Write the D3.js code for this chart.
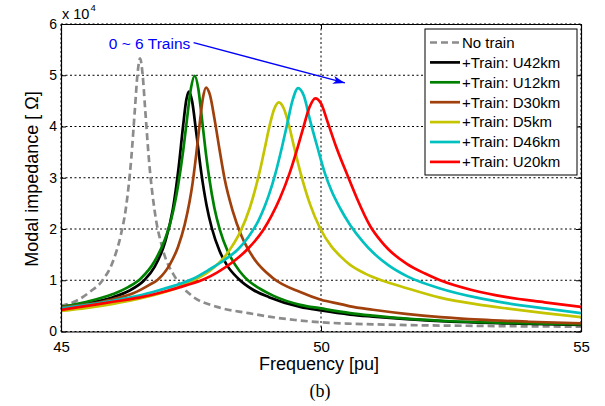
<!DOCTYPE html>
<html>
<head>
<meta charset="utf-8">
<script src="https://cdn.jsdelivr.net/npm/d3@7"></script>
<style>
  html, body { margin: 0; padding: 0; background: #fff; }
  svg { display: block; }
  text { font-family: Arial, "Liberation Sans", sans-serif; }
</style>
</head>
<body>
<script>
// Modal impedance (in units of 1e4 Ω) versus frequency (pu), [frequency, impedance]
const noTrain = [[45.0,0.50],[45.3,0.60],[45.55,0.77],[45.8,1.00],[46.0,1.37],[46.15,1.88],[46.25,2.42],[46.35,3.36],[46.42,4.32],[46.47,5.01],[46.52,5.33],[46.57,5.01],[46.62,4.32],[46.7,3.25],[46.8,2.36],[46.95,1.63],[47.2,1.05],[47.5,0.71],[48.0,0.48],[48.6,0.36],[49.0,0.29],[49.5,0.225],[50.0,0.18],[50.5,0.155],[51.0,0.14],[52.0,0.12],[53.0,0.11],[54.0,0.10],[55.0,0.095]];
const trainU42 = [[45.0,0.48],[45.5,0.55],[46.0,0.67],[46.3,0.79],[46.6,1.0],[46.8,1.26],[47.0,1.74],[47.15,2.38],[47.26,3.18],[47.35,4.03],[47.41,4.52],[47.46,4.68],[47.52,4.5],[47.6,3.89],[47.7,3.08],[47.8,2.46],[47.9,2.02],[48.05,1.57],[48.2,1.28],[48.4,1.04],[48.7,0.81],[49.0,0.67],[49.6,0.48],[50.0,0.41],[50.56,0.33],[51.0,0.29],[51.65,0.24],[52.5,0.19],[53.5,0.16],[55.0,0.13]];
const trainU12 = [[45.0,0.48],[45.5,0.58],[46.0,0.73],[46.3,0.87],[46.53,1.03],[46.8,1.37],[47.0,1.8],[47.12,2.19],[47.25,2.84],[47.35,3.53],[47.42,4.12],[47.5,4.75],[47.57,4.99],[47.64,4.74],[47.7,4.24],[47.78,3.53],[47.85,3.0],[47.95,2.41],[48.06,1.97],[48.2,1.58],[48.35,1.3],[48.54,1.05],[48.8,0.85],[49.1,0.69],[49.6,0.52],[50.0,0.45],[50.56,0.36],[51.0,0.31],[51.65,0.25],[52.5,0.20],[53.5,0.17],[55.0,0.14]];
const trainD30 = [[45.0,0.47],[45.5,0.53],[46.0,0.63],[46.4,0.75],[46.7,0.91],[46.86,1.01],[47.1,1.32],[47.25,1.65],[47.38,2.09],[47.47,2.52],[47.53,2.89],[47.6,3.45],[47.66,3.99],[47.73,4.56],[47.79,4.76],[47.86,4.63],[47.96,4.1],[48.05,3.54],[48.15,2.96],[48.3,2.36],[48.47,1.87],[48.7,1.44],[49.08,1.04],[49.6,0.77],[50.0,0.62],[50.4,0.53],[50.56,0.49],[51.0,0.425],[51.63,0.345],[52.3,0.28],[53.06,0.23],[54.0,0.19],[55.0,0.16]];
const trainD5 = [[45.0,0.40],[45.5,0.46],[46.0,0.54],[46.5,0.64],[46.9,0.74],[47.2,0.84],[47.54,0.99],[47.87,1.19],[48.15,1.46],[48.3,1.68],[48.45,1.95],[48.63,2.41],[48.75,2.83],[48.83,3.16],[48.93,3.63],[49.02,4.05],[49.1,4.34],[49.19,4.47],[49.28,4.36],[49.37,4.08],[49.48,3.61],[49.6,3.12],[49.79,2.48],[49.98,2.02],[50.2,1.66],[50.37,1.47],[50.56,1.30],[50.85,1.13],[51.19,0.99],[51.6,0.86],[52.29,0.66],[53.0,0.53],[53.57,0.45],[54.3,0.36],[55.0,0.28]];
const trainD46 = [[45.0,0.45],[45.5,0.52],[46.0,0.60],[46.5,0.70],[46.9,0.81],[47.2,0.90],[47.54,1.03],[47.87,1.22],[48.15,1.40],[48.4,1.60],[48.6,1.84],[48.8,2.17],[48.92,2.45],[49.0,2.67],[49.12,3.07],[49.25,3.6],[49.35,4.05],[49.45,4.5],[49.56,4.75],[49.67,4.6],[49.79,4.12],[49.93,3.6],[50.08,3.07],[50.2,2.75],[50.37,2.4],[50.56,2.08],[50.8,1.76],[51.01,1.53],[51.3,1.29],[51.65,1.08],[52.29,0.84],[53.0,0.66],[53.57,0.555],[54.3,0.45],[55.0,0.36]];
const trainU20 = [[45.0,0.42],[45.5,0.50],[46.0,0.58],[46.5,0.66],[47.0,0.78],[47.4,0.90],[47.75,1.02],[48.0,1.15],[48.31,1.36],[48.6,1.62],[48.89,1.98],[49.05,2.26],[49.21,2.6],[49.39,3.07],[49.53,3.52],[49.66,3.98],[49.78,4.38],[49.89,4.55],[50.0,4.45],[50.13,4.08],[50.3,3.58],[50.52,3.02],[50.69,2.6],[50.95,2.05],[51.15,1.77],[51.3,1.6],[51.65,1.32],[52.0,1.13],[52.29,1.0],[52.9,0.81],[53.57,0.67],[54.3,0.57],[55.0,0.48]];

const seriesNames = ["No train", "+Train: U42km", "+Train: U12km", "+Train: D30km", "+Train: D5km", "+Train: D46km", "+Train: U20km"];
const seriesColors = ["#8c8c8c", "#000000", "#008000", "#a0410d", "#c4c400", "#00c0c0", "#ff0000"];
const seriesData = [noTrain, trainU42, trainU12, trainD30, trainD5, trainD46, trainU20];

const freqTicks = [45, 50, 55];
const impTicks = [0, 1, 2, 3, 4, 5, 6];

const W = 605, H = 406;
const plotLeft = 61, plotRight = 581, plotTop = 24, plotBottom = 331.5;

const svg = d3.select("body").append("svg").attr("width", W).attr("height", H);

const x = d3.scaleLinear().domain([45, 55]).range([plotLeft, plotRight]);
const y = d3.scaleLinear().domain([0, 6]).range([plotBottom, plotTop]);

// dotted grid
const grid = svg.append("g").attr("stroke", "#000").attr("stroke-width", 1)
  .attr("stroke-dasharray", "2,2.5");
grid.selectAll("line.h").data(impTicks).join("line").attr("class", "h")
  .attr("x1", plotLeft).attr("x2", plotRight).attr("y1", d => y(d)).attr("y2", d => y(d));
grid.selectAll("line.v").data(freqTicks).join("line").attr("class", "v")
  .attr("y1", plotTop).attr("y2", plotBottom).attr("x1", d => x(d)).attr("x2", d => x(d));

// curves
svg.append("clipPath").attr("id", "plotClip").append("rect")
  .attr("x", plotLeft).attr("y", plotTop).attr("width", plotRight - plotLeft).attr("height", plotBottom - plotTop);

const line = d3.line().x(d => x(d[0])).y(d => y(d[1])).curve(d3.curveMonotoneX);
svg.append("g").attr("clip-path", "url(#plotClip)")
  .selectAll("path").data(seriesData).join("path")
  .attr("d", line)
  .attr("fill", "none")
  .attr("stroke", (d, i) => seriesColors[i])
  .attr("stroke-width", 2.7)
  .attr("stroke-dasharray", (d, i) => i === 0 ? "7,4" : null)
  .attr("stroke-linejoin", "round");

// axes with inward ticks
const fmt = d3.format("d");
svg.append("g").attr("transform", `translate(0,${plotBottom})`)
  .call(d3.axisBottom(x).tickValues(freqTicks).tickFormat(fmt).tickSizeInner(-5).tickSizeOuter(0).tickPadding(9.5))
  .call(g => g.selectAll("text").attr("font-size", 15).attr("font-family", "Arial, 'Liberation Sans', sans-serif"));
svg.append("g").attr("transform", `translate(${plotLeft},0)`)
  .call(d3.axisLeft(y).tickValues(impTicks).tickFormat(fmt).tickSizeInner(-5).tickSizeOuter(0).tickPadding(4))
  .call(g => g.selectAll("text").attr("font-size", 14).attr("font-family", "Arial, 'Liberation Sans', sans-serif"));
svg.append("g").attr("transform", `translate(0,${plotTop})`)
  .call(d3.axisTop(x).tickValues(freqTicks).tickFormat("").tickSizeInner(-5).tickSizeOuter(0));
svg.append("g").attr("transform", `translate(${plotRight},0)`)
  .call(d3.axisRight(y).tickValues(impTicks).tickFormat("").tickSizeInner(-5).tickSizeOuter(0));
svg.selectAll(".domain").attr("stroke", "#000").attr("stroke-width", 1.2);
svg.selectAll(".tick line").attr("stroke", "#000");

// exponent
const expo = svg.append("text").attr("x", 62).attr("y", 18.5).attr("font-size", 14.5);
expo.append("tspan").text("x 10");
expo.append("tspan").attr("font-size", 9.5).attr("dy", -8).attr("dx", 1).text("4");

// axis titles
svg.append("text").attr("x", 319).attr("y", 369.5).attr("text-anchor", "middle")
  .attr("font-size", 18).text("Frequency [pu]");
svg.append("text").attr("transform", "translate(38,179) rotate(-90)").attr("text-anchor", "middle")
  .attr("font-size", 18).text("Modal impedance [ Ω]");
svg.append("text").attr("x", 320).attr("y", 397).attr("text-anchor", "middle")
  .attr("font-size", 18)
  .style("font-family", "'Liberation Serif', 'Times New Roman', serif").text("(b)");

// annotation arrow
svg.append("defs").append("marker").attr("id", "arrowHead")
  .attr("viewBox", "0 0 12 8").attr("refX", 12).attr("refY", 4)
  .attr("markerWidth", 12).attr("markerHeight", 8).attr("markerUnits", "userSpaceOnUse")
  .attr("orient", "auto")
  .append("path").attr("d", "M0,0 L12,4 L0,8 L3,4 Z").attr("fill", "#0000ff");
svg.append("text").attr("x", x(45.92)).attr("y", y(5.51)).attr("font-size", 15.5)
  .attr("fill", "#0000ff").text("0 ~ 6 Trains");
svg.append("line")
  .attr("x1", x(47.55)).attr("y1", y(5.635)).attr("x2", x(50.46)).attr("y2", y(4.85))
  .attr("stroke", "#0000ff").attr("stroke-width", 1.3).attr("marker-end", "url(#arrowHead)");

// legend
const lg = svg.append("g").attr("transform", "translate(425,29)");
lg.append("rect").attr("width", 152).attr("height", 146).attr("fill", "#fff")
  .attr("stroke", "#000").attr("stroke-width", 1);
const items = lg.selectAll("g.item").data(seriesNames).join("g").attr("class", "item")
  .attr("transform", (d, i) => `translate(0,${13.5 + i * 19.9})`);
items.append("line").attr("x1", 5).attr("x2", 35).attr("y1", 0).attr("y2", 0)
  .attr("stroke", (d, i) => seriesColors[i]).attr("stroke-width", 2.7)
  .attr("stroke-dasharray", (d, i) => i === 0 ? "7,4" : null);
items.append("text").attr("x", 37).attr("y", 5.3).attr("font-size", 15).text(d => d);
</script>
</body>
</html>
